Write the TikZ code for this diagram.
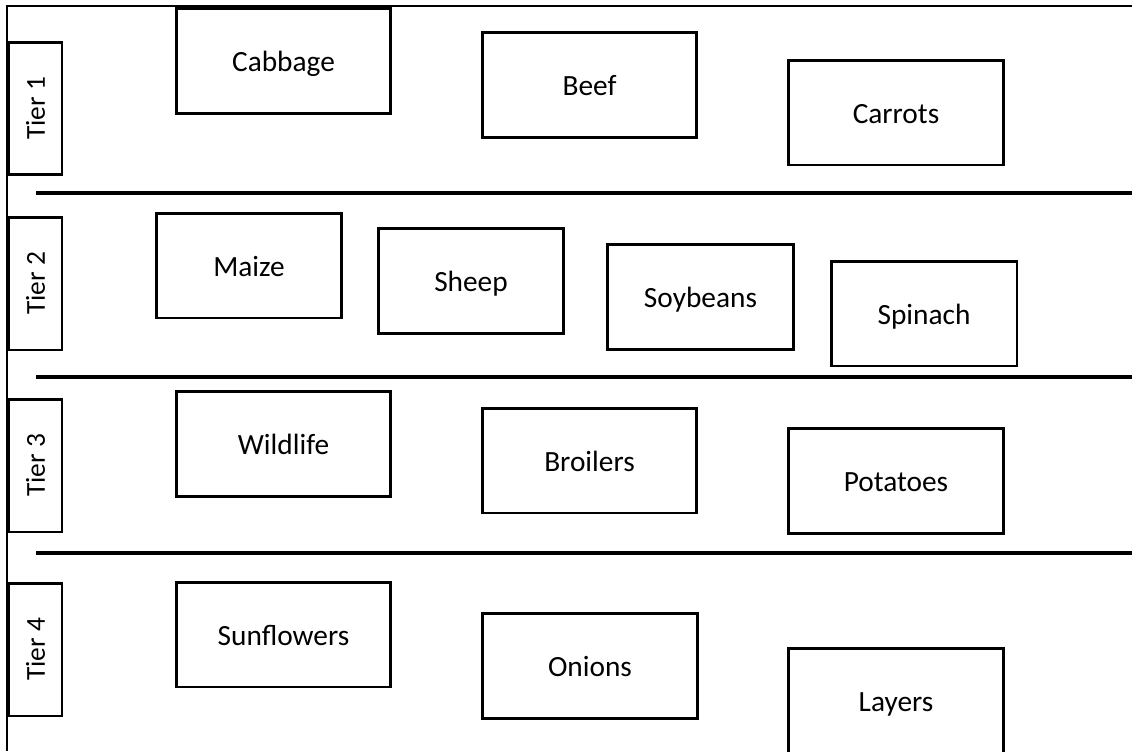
\documentclass[tikz,border=0pt]{standalone}
\usepackage{fontspec}
\setmainfont{Carlito}
\begin{document}
\begin{tikzpicture}[x=0.02cm,y=-0.02cm, font=\fontsize{16.7}{20}\selectfont, line join=miter,
  crop/.style={draw, line width=1.7pt, inner sep=0pt, minimum width=4.3cm, minimum height=2.1cm, text height=1.4em, text depth=0.15em},
  narrow/.style={crop, minimum width=3.72cm},
  tierbox/.style={draw, line width=1.7pt, inner sep=0pt, rotate=90, minimum width=2.66cm, minimum height=1.06cm, font=\fontsize{15.6}{18}\selectfont}]
\def\xmax{1132} \def\ymax{751}
\useasboundingbox (0,0) rectangle (\xmax,\ymax);
\clip (0,0) rectangle (\xmax,\ymax);
% frame
\draw[line width=1.1pt] (\xmax,6)--(7,6)--(7,\ymax);
% tier separators
\foreach \y in {193,377,553}
  \draw[line width=2.8pt] (36,\y)--(\xmax,\y);
% tier labels
\node[tierbox] (tier1) at (35.5,108.5) {Tier 1};
\node[tierbox] (tier2) at (35.5,283.5) {Tier 2};
\node[tierbox] (tier3) at (35.5,465.5) {Tier 3};
\node[tierbox] (tier4) at (35.5,649.5) {Tier 4};
% tier 1
\node[crop] (cabbage) at (283.5,61) {Cabbage};
\node[crop] (beef) at (589.5,85) {Beef};
\node[crop] (carrots) at (896,112.5) {Carrots};
% tier 2
\node[narrow] (maize) at (249,265.5) {Maize};
\node[narrow] (sheep) at (471,281) {Sheep};
\node[narrow] (soybeans) at (700.5,297) {Soybeans};
\node[narrow] (spinach) at (924,313.5) {Spinach};
% tier 3
\node[crop] (wildlife) at (283.5,444) {Wildlife};
\node[crop] (broilers) at (589.5,460.5) {Broilers};
\node[crop] (potatoes) at (896,481) {Potatoes};
% tier 4
\node[crop] (sunflowers) at (283.5,634.5) {Sunflowers};
\node[crop] (onions) at (590,666) {Onions};
\node[crop] (layers) at (896,700.5) {Layers};
\end{tikzpicture}
\end{document}
